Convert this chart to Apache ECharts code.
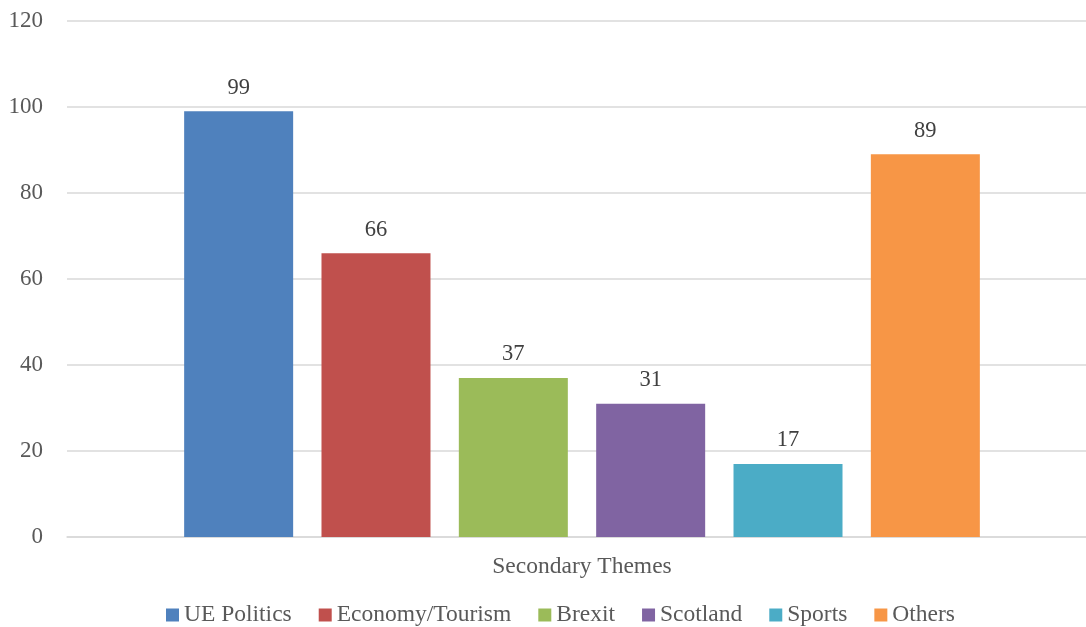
<!DOCTYPE html>
<html><head><meta charset="utf-8">
<script src="https://cdn.jsdelivr.net/npm/echarts@6/dist/echarts.min.js"></script>
<style>html,body{margin:0;padding:0;background:#fff}#c{width:1086px;height:627px}</style>
</head><body><div id="c"></div>
<script>
var categories = ['Secondary Themes'];
var seriesNames = ['UE Politics', 'Economy/Tourism', 'Brexit', 'Scotland', 'Sports', 'Others'];
var seriesValues = [99, 66, 37, 31, 17, 89];
var colors = ['#4F81BD', '#C0504D', '#9BBB59', '#8064A2', '#4BACC6', '#F79646'];
var yTicks = [0, 20, 40, 60, 80, 100, 120];

var font = '"Liberation Serif","Times New Roman",serif';
var chart = echarts.init(document.getElementById('c'));
chart.setOption({
  animation: false,
  textStyle: {fontFamily: font},
  grid: {left: 67, right: -11, top: 21, bottom: 90, containLabel: false, outerBoundsMode: 'none'},
  legend: {
    top: 598, left: 161, itemWidth: 13, itemHeight: 13, itemGap: 27,
    icon: 'rect',
    textStyle: {fontFamily: font, fontSize: 23.5, color: '#595959'},
    data: seriesNames
  },
  xAxis: {
    type: 'category', data: categories,
    axisLine: {lineStyle: {color: '#d9d9d9', width: 1.5}},
    axisTick: {show: false},
    axisLabel: {fontFamily: font, fontSize: 23.5, color: '#595959', margin: 18}
  },
  yAxis: {
    type: 'value', min: yTicks[0], max: yTicks[yTicks.length - 1], interval: 20,
    axisLine: {show: false}, axisTick: {show: false},
    splitLine: {lineStyle: {color: '#d9d9d9', width: 1.5}},
    axisLabel: {fontFamily: font, fontSize: 23, color: '#595959', margin: 24}
  },
  series: seriesNames.map(function (n, i) {
    return {
      name: n, type: 'bar', data: [seriesValues[i]],
      barWidth: 109, barGap: '26%',
      itemStyle: {color: colors[i]},
      label: {show: true, position: 'top', distance: 12, fontFamily: font, fontSize: 22.5, color: '#404040'}
    };
  })
});
</script></body></html>
